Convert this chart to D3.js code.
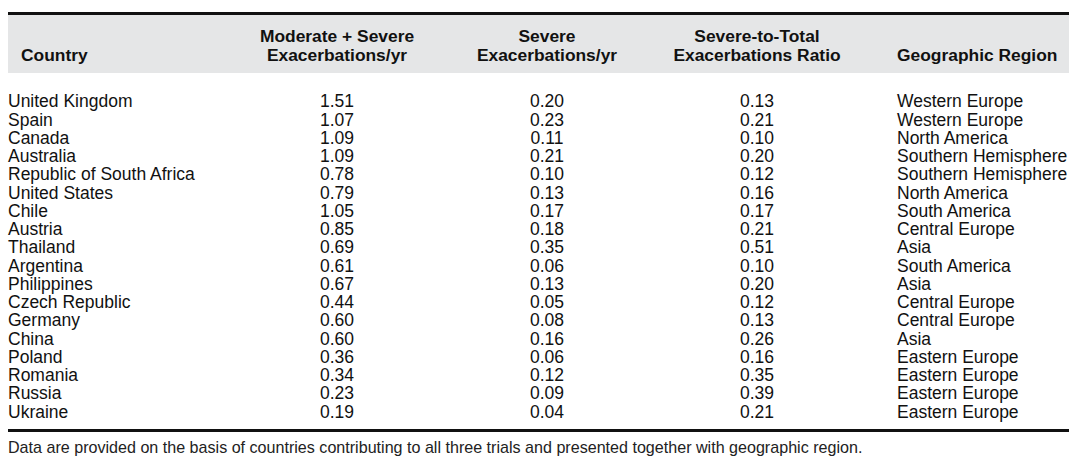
<!DOCTYPE html>
<html>
<head>
<meta charset="utf-8">
<script src="https://cdn.jsdelivr.net/npm/d3@7"></script>
<style>
  html, body { margin: 0; padding: 0; background: #ffffff; }
  svg { display: block; }
</style>
</head>
<body>
<svg id="chart" width="1080" height="468"></svg>
<script>
const countries = ["United Kingdom","Spain","Canada","Australia","Republic of South Africa","United States","Chile","Austria","Thailand","Argentina","Philippines","Czech Republic","Germany","China","Poland","Romania","Russia","Ukraine"];
const modSevere = [1.51,1.07,1.09,1.09,0.78,0.79,1.05,0.85,0.69,0.61,0.67,0.44,0.60,0.60,0.36,0.34,0.23,0.19];
const severe = [0.20,0.23,0.11,0.21,0.10,0.13,0.17,0.18,0.35,0.06,0.13,0.05,0.08,0.16,0.06,0.12,0.09,0.04];
const ratio = [0.13,0.21,0.10,0.20,0.12,0.16,0.17,0.21,0.51,0.10,0.20,0.12,0.13,0.26,0.16,0.35,0.39,0.21];
const regions = ["Western Europe","Western Europe","North America","Southern Hemisphere","Southern Hemisphere","North America","South America","Central Europe","Asia","South America","Asia","Central Europe","Central Europe","Asia","Eastern Europe","Eastern Europe","Eastern Europe","Eastern Europe"];
const headers = [["Country"],["Moderate + Severe","Exacerbations/yr"],["Severe","Exacerbations/yr"],["Severe-to-Total","Exacerbations Ratio"],["Geographic Region"]];
const footnote = "Data are provided on the basis of countries contributing to all three trials and presented together with geographic region.";

const svg = d3.select("#chart");
const left = 8, right = 1069;
const fontFam = "'Liberation Sans', Arial, Helvetica, sans-serif";
const ink = "#111";

// column anchors
const colX = d3.scaleOrdinal().domain([0,1,2,3,4]).range([21, 337, 547, 757, 897]);
const colAnchor = ["start","middle","middle","middle","start"];

// header band
svg.append("rect").attr("x", left).attr("y", 15).attr("width", right - left).attr("height", 58).attr("fill", "#e5e6e7");
svg.append("rect").attr("x", left).attr("y", 12).attr("width", right - left).attr("height", 3).attr("fill", ink);

// header text
headers.forEach((lines, i) => {
  const t = svg.append("text")
    .attr("text-anchor", colAnchor[i])
    .attr("font-family", fontFam)
    .attr("font-weight", "bold")
    .attr("font-size", 17.4)
    .attr("fill", ink);
  const base = 61;
  lines.forEach((ln, j) => {
    t.append("tspan").attr("x", colX(i)).attr("y", base - (lines.length - 1 - j) * 19).text(ln);
  });
});

// rows
const y = d3.scalePoint().domain(countries).range([107.3, 417.5]);
const fmt = d3.format(".2f");
const rows = svg.append("g").attr("font-family", fontFam).attr("font-size", 17.5).attr("fill", ink);
const cols = [
  {vals: countries, x: 8, anchor: "start", f: d => d},
  {vals: modSevere, x: colX(1), anchor: "middle", f: fmt},
  {vals: severe, x: colX(2), anchor: "middle", f: fmt},
  {vals: ratio, x: colX(3), anchor: "middle", f: fmt},
  {vals: regions, x: colX(4), anchor: "start", f: d => d}
];
cols.forEach(c => {
  rows.selectAll(null).data(c.vals.map((v, i) => ({v, c: countries[i]})))
    .enter().append("text")
    .attr("x", c.x)
    .attr("y", d => y(d.c))
    .attr("text-anchor", c.anchor)
    .text(d => c.f(d.v));
});

// bottom rule
svg.append("rect").attr("x", left).attr("y", 429).attr("width", right - left).attr("height", 3).attr("fill", ink);

// footnote
svg.append("text").attr("x", 8).attr("y", 453)
  .attr("font-family", fontFam).attr("font-size", 16.1).attr("fill", "#222")
  .text(footnote);
</script>
</body>
</html>
